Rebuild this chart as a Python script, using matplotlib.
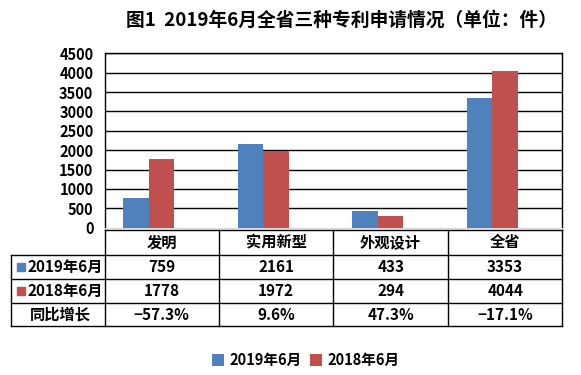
import matplotlib.pyplot as plt
from matplotlib.patches import Rectangle

plt.rcParams['font.family'] = ['Noto Sans CJK SC', 'DejaVu Sans']
plt.rcParams['font.weight'] = 'bold'

title = '图1  2019年6月全省三种专利申请情况（单位：件）'
categories = ['发明', '实用新型', '外观设计', '全省']
series_names = ['2019年6月', '2018年6月']
jun_2019 = [759, 2161, 433, 3353]
jun_2018 = [1778, 1972, 294, 4044]
growth_label = '同比增长'
growth = ['−57.3%', '9.6%', '47.3%', '−17.1%']
colors = ['#4F81BD', '#C0504D']

W, H = 581, 375
fig = plt.figure(figsize=(W / 100, H / 100), dpi=100)

# plot box, pixel coords from the top-left corner
left, right, top, bottom = 104.5, 562.3, 53.3, 227.7
ax = fig.add_axes([left / W, 1 - bottom / H, (right - left) / W, (bottom - top) / H])

x = list(range(len(categories)))
bw = 0.223
ax.bar([i - bw for i in x], jun_2019, bw, color=colors[0], label=series_names[0], zorder=3)
ax.bar(x, jun_2018, bw, color=colors[1], label=series_names[1], zorder=3)
ax.set_xlim(-0.5, len(categories) - 0.5)
ax.set_ylim(0, 4500)
ax.set_yticks(range(0, 4501, 500))
ax.set_xticks([])
ax.yaxis.grid(True, color='black', lw=1.0)
ax.set_axisbelow(True)
ax.get_ygridlines()[0].set_visible(False)
ax.tick_params(axis='y', length=0, pad=8, labelsize=10.5)
for s in ['left', 'top', 'right']:
    ax.spines[s].set_color('black')
    ax.spines[s].set_linewidth(1.0)
ax.spines['bottom'].set_color('#d9d9d9')

fig.text(341 / W, 1 - 20 / H, title, ha='center', va='center', fontsize=13.5, weight='bold')

# data table drawn below the plot, in pixel coords
tab = fig.add_axes([0, 0, 1, 1])
tab.set_xlim(0, W)
tab.set_ylim(H, 0)
tab.axis('off')
tab.patch.set_alpha(0)

col_w = (right - left) / len(categories)
edges = [left + i * col_w for i in range(len(categories) + 1)]
rows = [230.0, 255.0, 279.0, 303.3, 325.7]
tab_left = 11.3
lw = 1.0

tab.plot([left, right], [rows[0], rows[0]], color='black', lw=lw)
for yy in rows[1:]:
    tab.plot([tab_left, right], [yy, yy], color='black', lw=lw)
tab.plot([tab_left, tab_left], [rows[1], rows[-1]], color='black', lw=lw)
for xx in edges:
    tab.plot([xx, xx], [rows[0], rows[-1]], color='black', lw=lw)

def mid(i):
    return (rows[i] + rows[i + 1]) / 2

for j, cat in enumerate(categories):
    cx = (edges[j] + edges[j + 1]) / 2
    tab.text(cx, mid(0), cat, ha='center', va='center', fontsize=11)
    tab.text(cx, mid(1), str(jun_2019[j]), ha='center', va='center', fontsize=11)
    tab.text(cx, mid(2), str(jun_2018[j]), ha='center', va='center', fontsize=11)
    tab.text(cx, mid(3), growth[j], ha='center', va='center', fontsize=11)

for k, name in enumerate(series_names):
    cy = mid(k + 1)
    tab.add_patch(Rectangle((16.7, cy - 4.2), 8.3, 8.3, color=colors[k]))
    tab.text(27.5, cy, name, ha='left', va='center', fontsize=11)
tab.text(60, mid(3), growth_label, ha='center', va='center', fontsize=11)

fig.legend(*ax.get_legend_handles_labels(), loc='center',
           bbox_to_anchor=(306 / W, 1 - 360 / H), ncol=2, frameon=False,
           fontsize=10.5, handlelength=0.8, handleheight=0.8,
           handletextpad=0.4, columnspacing=0.6)

fig.savefig('out.png', dpi=100)
